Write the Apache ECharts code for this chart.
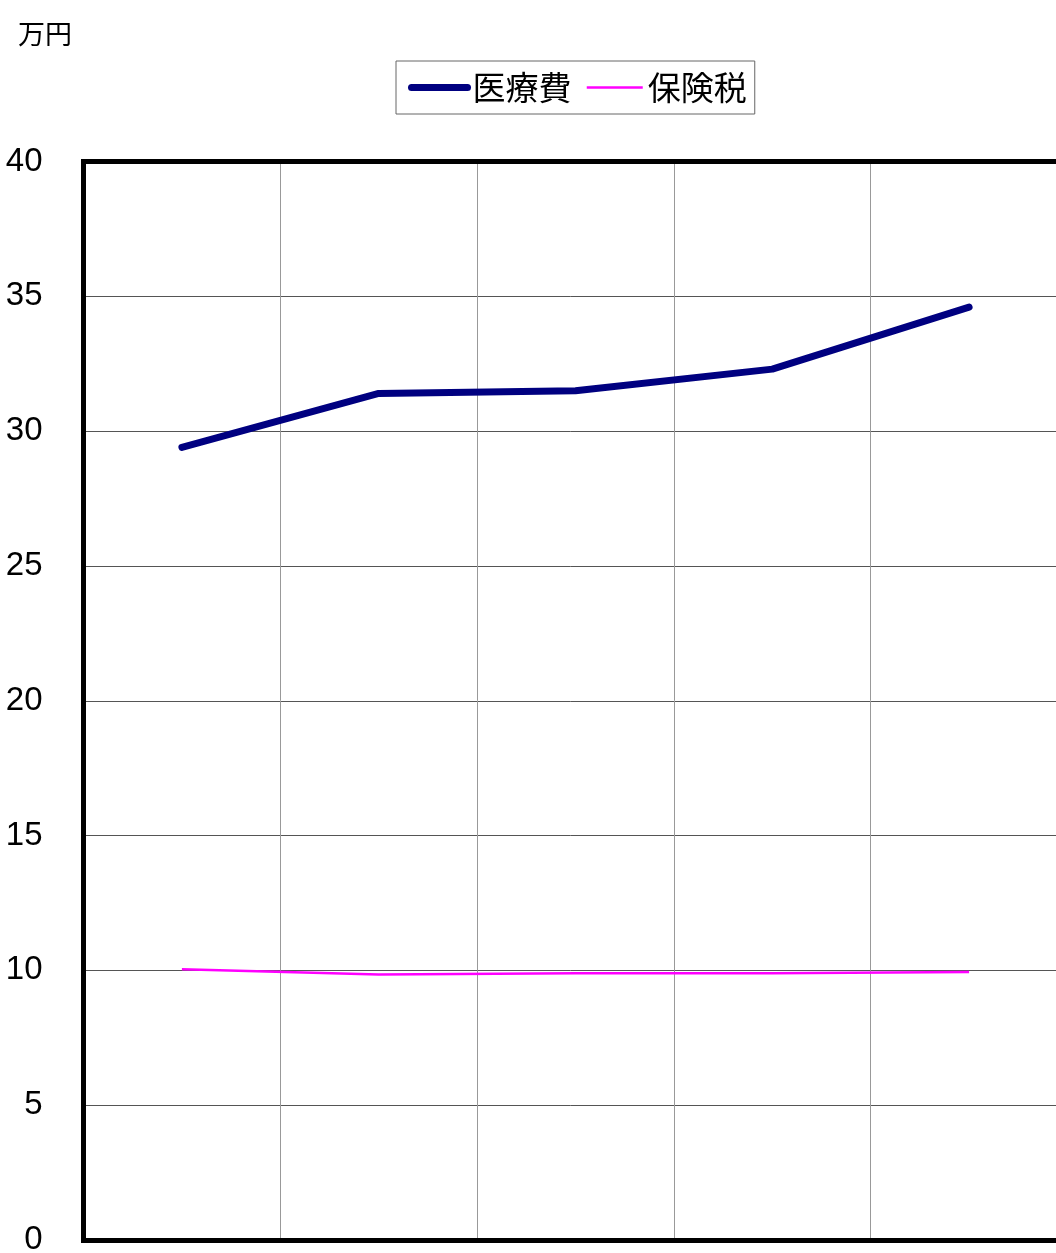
<!DOCTYPE html>
<html>
<head>
<meta charset="utf-8">
<script src="https://cdn.jsdelivr.net/npm/echarts@6/dist/echarts.min.js"></script>
<style>
html,body{margin:0;padding:0;background:#fff;}
#chart{width:1056px;height:1253px;}
</style>
</head>
<body>
<div id="chart"></div>
<script>
const categories = ['1', '2', '3', '4', '5'];
const medicalCost = [29.4, 31.4, 31.5, 32.3, 34.6];
const insuranceTax = [10.04, 9.85, 9.89, 9.89, 9.94];
const yUnit = '万円';
const seriesNames = ['医療費', '保険税'];

const chart = echarts.init(document.getElementById('chart'));
const cjk = '"Noto Sans CJK JP", "Noto Sans", sans-serif';
const num = '"Liberation Sans", Arial, sans-serif';
const frame = {show: true, onZero: false, lineStyle: {color: '#000', width: 5, cap: 'square'}};
chart.setOption({
  animation: false,
  backgroundColor: '#fff',
  title: {
    text: yUnit, left: 13, top: 15,
    textStyle: {fontSize: 27, fontWeight: 'normal', color: '#000', fontFamily: cjk}
  },
  legend: {
    left: 396, top: 61,
    padding: [10, 8, 10, 12],
    borderColor: '#666', borderWidth: 1,
    itemWidth: 56, itemHeight: 14, itemGap: 14,
    itemStyle: {opacity: 0},
    textStyle: {fontSize: 33, color: '#000', fontFamily: cjk},
    data: [
      {name: seriesNames[0], lineStyle: {width: 7, cap: 'round'}},
      {name: seriesNames[1], lineStyle: {width: 2.5}}
    ]
  },
  grid: {
    left: 83.5, top: 161.5, width: 984, bottom: 13,
    show: false,
    containLabel: false,
    outerBoundsMode: 'none'
  },
  xAxis: [
    {
      type: 'category', data: categories, boundaryGap: true, position: 'bottom',
      axisLine: frame, axisTick: {show: false},
      axisLabel: {show: false},
      splitLine: {show: true, lineStyle: {color: '#999', width: 1}}
    },
    {
      type: 'category', data: categories, boundaryGap: true, position: 'top',
      axisLine: frame, axisTick: {show: false},
      axisLabel: {show: false}, splitLine: {show: false}
    }
  ],
  yAxis: {
    type: 'value', min: 0, max: 40, interval: 5,
    axisLine: frame, axisTick: {show: false},
    axisLabel: {fontSize: 33, color: '#000', margin: 41, fontFamily: num, padding: [4, 0, 0, 0]},
    splitLine: {show: true, lineStyle: {color: '#555', width: 1}}
  },
  series: [
    {
      name: seriesNames[0], type: 'line', data: medicalCost,
      symbol: 'none', smooth: false, z: 3,
      itemStyle: {color: '#000080'},
      lineStyle: {color: '#000080', width: 7, cap: 'round', join: 'round'}
    },
    {
      name: seriesNames[1], type: 'line', data: insuranceTax,
      symbol: 'none', smooth: false, z: 3,
      itemStyle: {color: '#ff00ff'},
      lineStyle: {color: '#ff00ff', width: 2.5}
    }
  ]
});
</script>
</body>
</html>
